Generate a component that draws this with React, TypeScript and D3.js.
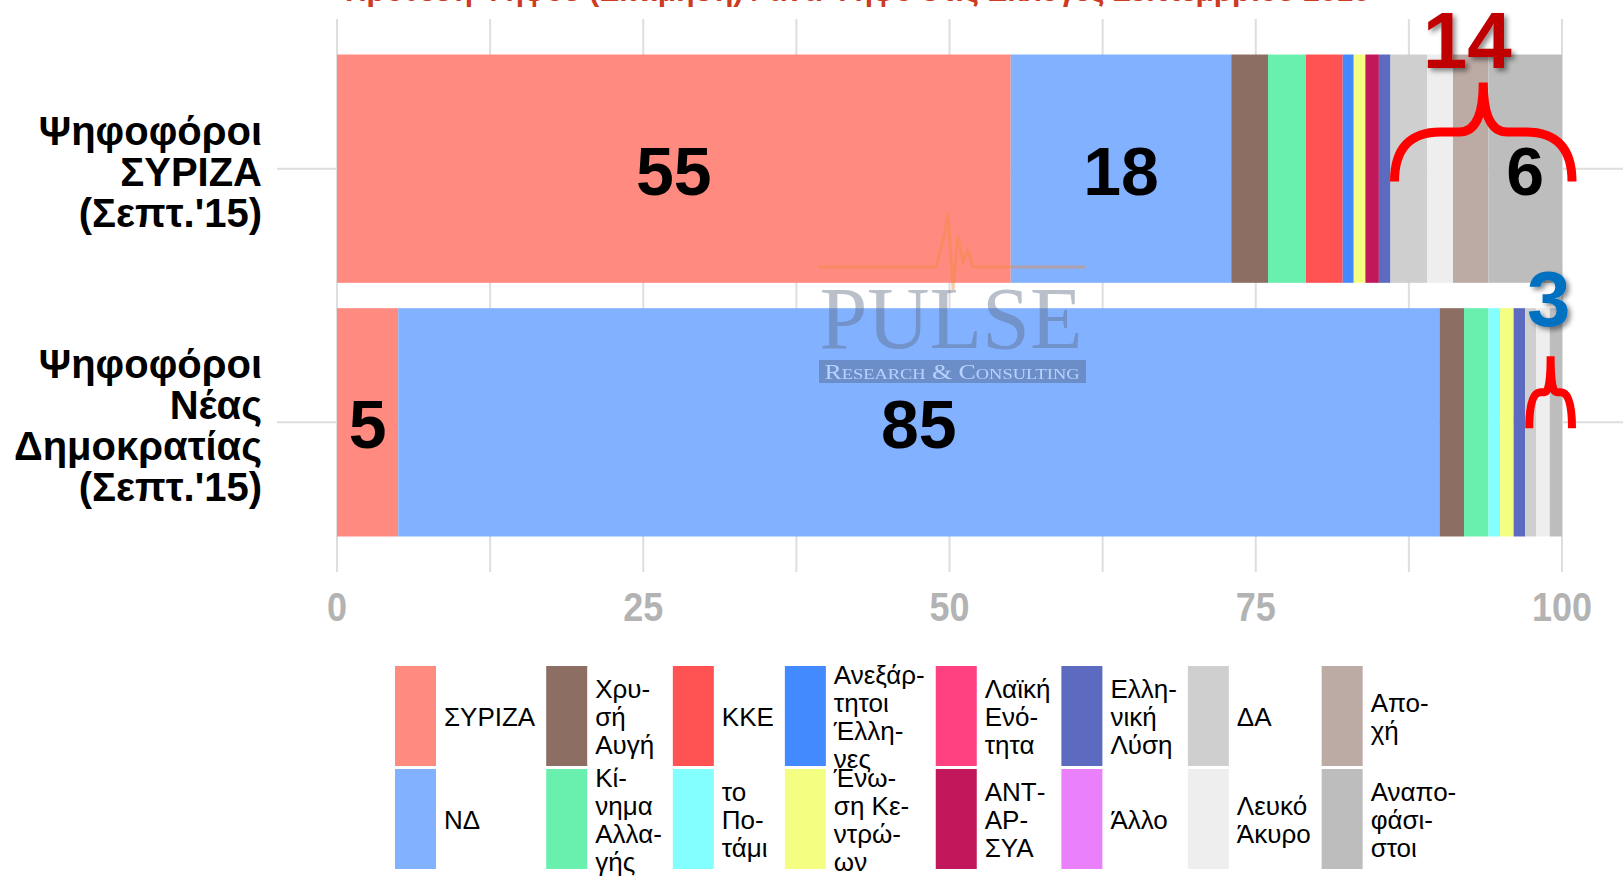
import * as d3 from "d3";

// parties in stacking / legend order
const parties = [
  "ΣΥΡΙΖΑ", "ΝΔ", "Χρυσή Αυγή", "Κίνημα Αλλαγής", "ΚΚΕ", "το Ποτάμι",
  "Ανεξάρτητοι Έλληνες", "Ένωση Κεντρώων", "Λαϊκή Ενότητα", "ΑΝΤΑΡΣΥΑ",
  "Ελληνική Λύση", "Άλλο", "ΔΑ", "Λευκό Άκυρο", "Αποχή", "Αναποφάσιστοι",
];
const partyColors = [
  "#ff8a80", "#82b1ff", "#8d6e63", "#69f0ae", "#ff5252", "#84ffff",
  "#448aff", "#f4ff81", "#ff4081", "#c2185b", "#5c6bc0", "#ea80fc",
  "#cfcfcf", "#eeeeee", "#bcaaa4", "#bdbdbd",
];
const legendLines = [
  ["ΣΥΡΙΖΑ"], ["ΝΔ"], ["Χρυ-", "σή", "Αυγή"], ["Κί-", "νημα", "Αλλα-", "γής"],
  ["ΚΚΕ"], ["το", "Πο-", "τάμι"], ["Ανεξάρ-", "τητοι", "Έλλη-", "νες"],
  ["Ένω-", "ση Κε-", "ντρώ-", "ων"], ["Λαϊκή", "Ενό-", "τητα"], ["ΑΝΤ-", "ΑΡ-", "ΣΥΑ"],
  ["Ελλη-", "νική", "Λύση"], ["Άλλο"], ["ΔΑ"], ["Λευκό", "Άκυρο"], ["Απο-", "χή"],
  ["Αναπο-", "φάσι-", "στοι"],
];

const groupLines = [
  ["Ψηφοφόροι", "ΣΥΡΙΖΑ", "(Σεπτ.'15)"],
  ["Ψηφοφόροι", "Νέας", "Δημοκρατίας", "(Σεπτ.'15)"],
];
const syrizaVoters = [55, 18, 3, 3.1, 3, 0, 0.9, 0.95, 0, 1.1, 0.95, 0, 3, 2.1, 2.9, 6];
const ndVoters = [5, 85, 2, 2, 0, 0.95, 0, 1.1, 0, 0, 0.95, 0, 0.9, 1.1, 0, 1];

const xTicks = [0, 25, 50, 75, 100];
const xMinorTicks = [12.5, 37.5, 62.5, 87.5];

// bracket annotations over the "undecided / abstain" block
const bracketTotals = ["14", "3"];
const bracketColors = ["#c00000", "#0070c0"];
const bracketFromParty = 12;

const title = "Πρόθεση Ψήφου (Εκτίμηση) / ανά Ψήφο στις Εκλογές Σεπτεμβρίου 2015";

const W = 1623;
const H = 880;
const FONT = "'Liberation Sans', Arial, Helvetica, sans-serif";

const KEY_W = 41;
const KEY_H = 100;
const LEGEND_X0 = 395;
const LEGEND_Y0 = 666;
const LEGEND_FONT = 26;
const LINE_H = 28;

function measure(text: string, font: string): number {
  const canvas = document.createElement("canvas");
  const ctx = canvas.getContext("2d");
  if (!ctx) return text.length * 14;
  ctx.font = font;
  return ctx.measureText(text).width;
}

function bracePath(x0: number, x1: number, yTip: number, yEnd: number): string {
  const w = x1 - x0;
  const xm = (x0 + x1) / 2;
  const ym = (yTip + yEnd) / 2;
  const r1 = w * 0.26;
  const r2 = w * 0.135;
  const p = d3.path();
  p.moveTo(x0, yEnd);
  p.quadraticCurveTo(x0, ym, x0 + r1, ym);
  p.lineTo(xm - r2, ym);
  p.quadraticCurveTo(xm, ym, xm, yTip);
  p.quadraticCurveTo(xm, ym, xm + r2, ym);
  p.lineTo(x1 - r1, ym);
  p.quadraticCurveTo(x1, ym, x1, yEnd);
  return p.toString();
}

export default function App() {
  const rows = [syrizaVoters, ndVoters].map((vals, i) => {
    const row: Record<string, number> = { idx: i };
    parties.forEach((p, j) => (row[p] = vals[j]));
    return row;
  });
  const series = d3.stack<Record<string, number>>().keys(parties)(rows);

  const x = d3.scaleLinear().domain([0, 100]).range([337, 1562]);
  const y = d3
    .scaleBand<number>()
    .domain([0, 1])
    .range([19, 572])
    .paddingInner(0.1)
    .paddingOuter(0.14);
  const bw = y.bandwidth();

  // legend columns: two entries per column, width from the longest line
  const legendFont = `${LEGEND_FONT}px ${FONT}`;
  const columns = d3.range(parties.length / 2).map((c) => [2 * c, 2 * c + 1]);
  let cx = LEGEND_X0;
  const columnX = columns.map((col) => {
    const maxW = d3.max(col.flatMap((i) => legendLines[i].map((l) => measure(l, legendFont)))) ?? 0;
    const start = cx;
    cx += KEY_W + 8 + maxW + 11;
    return start;
  });

  const bracketGeom = [
    { tipDy: 28, endDy: 127, labelGap: 15, labelDx: -16, size: 80 },
    { tipDy: 48, endDy: 120, labelGap: 30, labelDx: -2, size: 78 },
  ];

  return (
    <svg
      width={W}
      height={H}
      style={{ position: "absolute", left: 0, top: 0, display: "block", background: "#fff" }}
      fontFamily={FONT}
    >
      <defs>
        <filter id="shadow" x="-20%" y="-20%" width="150%" height="150%">
          <feDropShadow dx="3" dy="3" stdDeviation="2.5" floodColor="#000" floodOpacity="0.45" />
        </filter>
      </defs>

      {/* cut-off title */}
      <text x={345} y={1} fontSize={30} fontWeight="bold" fill="#cc3b22">
        {title}
      </text>

      {/* grid */}
      {[...xMinorTicks, ...xTicks].map((t) => (
        <line key={`g${t}`} x1={x(t)} x2={x(t)} y1={19} y2={572} stroke="#dedede" strokeWidth={2} />
      ))}
      {[0, 1].map((i) => (
        <line
          key={`h${i}`}
          x1={277}
          x2={W}
          y1={(y(i) ?? 0) + bw / 2}
          y2={(y(i) ?? 0) + bw / 2}
          stroke="#dedede"
          strokeWidth={2}
        />
      ))}

      {/* stacked bars */}
      {series.map((s, j) => (
        <g key={parties[j]} fill={partyColors[j]}>
          {s.map((d, i) =>
            d[1] - d[0] > 0 ? (
              <rect
                key={i}
                x={x(d[0])}
                y={y(i)}
                width={x(d[1]) - x(d[0])}
                height={bw}
              />
            ) : null,
          )}
        </g>
      ))}

      {/* watermark */}
      <g opacity={0.42}>
        <path
          d="M818,267 L936,267 L944,236 L948,213 L953,290 L958,236 L963,262 L968,250 L973,267 L1085,267"
          fill="none"
          stroke="#f08a3a"
          strokeWidth={3}
        />
        <text
          x={951}
          y={348}
          textAnchor="middle"
          fontFamily="'Liberation Serif', 'Times New Roman', serif"
          fontSize={88}
          fill="#5d6a80"
          textLength={263}
          lengthAdjust="spacingAndGlyphs"
        >
          PULSE
        </text>
        <rect x={819} y={360} width={267} height={23} fill="#4f5f7d" />
        <text
          x={952}
          y={379}
          textAnchor="middle"
          fontFamily="'Liberation Serif', 'Times New Roman', serif"
          fontSize={21}
          fontVariant="small-caps"
          fill="#ffffff"
          textLength={255}
          lengthAdjust="spacingAndGlyphs"
        >
          Research &amp; Consulting
        </text>
      </g>

      {/* value labels */}
      {series.map((s, j) =>
        s.map((d, i) =>
          d[1] - d[0] >= 4 ? (
            <text
              key={`l${j}-${i}`}
              x={x((d[0] + d[1]) / 2)}
              y={(y(i) ?? 0) + bw / 2 + 26}
              textAnchor="middle"
              fontSize={68}
              fontWeight="bold"
              fill="#000"
            >
              {Math.round(d[1] - d[0])}
            </text>
          ) : null,
        ),
      )}

      {/* brackets */}
      {bracketTotals.map((total, i) => {
        const g = bracketGeom[i];
        const start = series[bracketFromParty][i][0];
        const x0 = x(start) + 4;
        const x1 = x(100) + 10;
        const top = y(i) ?? 0;
        const tip = top + g.tipDy;
        const xm = (x0 + x1) / 2;
        return (
          <g key={`b${i}`}>
            <path
              d={bracePath(x0, x1, tip, top + g.endDy)}
              fill="none"
              stroke="#ff0000"
              strokeWidth={i === 0 ? 9 : 8}
            />
            <text
              x={xm + g.labelDx}
              y={tip - g.labelGap}
              textAnchor="middle"
              fontSize={g.size}
              fontWeight="bold"
              fill={bracketColors[i]}
              filter="url(#shadow)"
            >
              {total}
            </text>
          </g>
        );
      })}

      {/* y labels */}
      {groupLines.map((lines, i) => {
        const c = (y(i) ?? 0) + bw / 2;
        return (
          <text key={`y${i}`} textAnchor="end" fontSize={40} fontWeight="bold" fill="#000">
            {lines.map((l, k) => (
              <tspan key={k} x={262} y={c + (k - (lines.length - 1) / 2) * 41 + 17}>
                {l}
              </tspan>
            ))}
          </text>
        );
      })}

      {/* x tick labels */}
      {xTicks.map((t) => (
        <text
          key={`t${t}`}
          transform={`translate(${x(t)},621) scale(0.9,1)`}
          textAnchor="middle"
          fontSize={40}
          fontWeight="bold"
          fill="#b3b3b3"
        >
          {t}
        </text>
      ))}

      {/* legend */}
      {columns.map((col, c) =>
        col.map((pi, r) => {
          const ky = LEGEND_Y0 + r * (KEY_H + 3);
          const kc = ky + KEY_H / 2;
          const lines = legendLines[pi];
          return (
            <g key={`lg${pi}`}>
              <rect x={columnX[c]} y={ky} width={KEY_W} height={KEY_H} fill={partyColors[pi]} />
              <text fontSize={LEGEND_FONT} fill="#000">
                {lines.map((l, k) => (
                  <tspan
                    key={k}
                    x={columnX[c] + KEY_W + 8}
                    y={kc + (k - (lines.length - 1) / 2) * LINE_H + 10}
                  >
                    {l}
                  </tspan>
                ))}
              </text>
            </g>
          );
        }),
      )}
    </svg>
  );
}
